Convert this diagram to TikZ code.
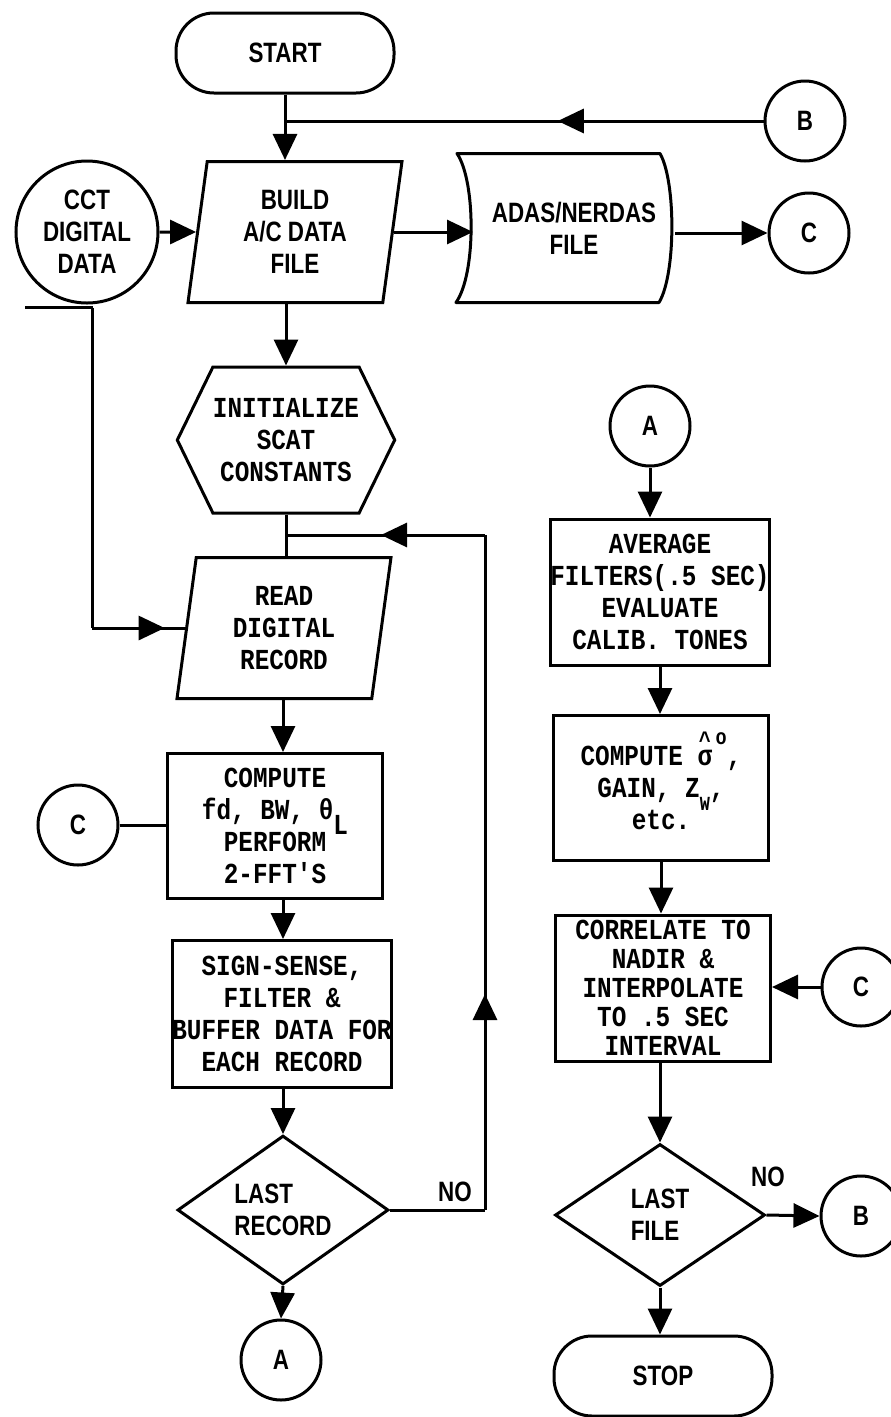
\documentclass[tikz,border=0pt]{standalone}
\usepackage{fontspec}
\usetikzlibrary{shapes.geometric, shapes.symbols, arrows.meta, calc, decorations.markings}
\newfontfamily\plotfont[FakeStretch=0.8]{Liberation Sans}
\newfontfamily\typefont[FakeStretch=0.84]{Liberation Mono}
\newcommand{\hatsigma}{\setbox0\hbox{σ}\rlap{\hbox to\wd0{\hss\raisebox{0.58em}[0pt][0pt]{\fontsize{24}{24}\selectfont\textasciicircum}\hss}}σ}
\tikzset{
    chartline/.style={line width=3pt},
    basebox/.style={draw, line width=3pt, inner sep=0pt, align=center, font=\typefont\bfseries\fontsize{29}{32}\selectfont},
    plotted/.style={font=\plotfont\bfseries\fontsize{28}{32}\selectfont},
    termbox/.style={basebox, plotted, rectangle, rounded corners=38pt, minimum width=218pt, minimum height=80pt},
    iobox/.style={basebox, trapezium, trapezium left angle=77, trapezium right angle=103, trapezium stretches body, minimum width=214pt, minimum height=141pt},
    prepbox/.style={basebox, signal, signal to=east and west, signal pointer angle=128, minimum width=217pt, minimum height=146pt},
    procbox/.style={basebox, rectangle, minimum width=215pt, minimum height=145pt},
    decbox/.style={basebox, plotted, diamond, align=left, minimum width=211pt, minimum height=140pt},
    connector/.style={basebox, plotted, circle, minimum size=80pt},
    tapebox/.style={basebox, plotted, circle, minimum size=142pt},
    filebox/.style={basebox, plotted, draw=none, rectangle, minimum width=199pt, minimum height=146pt},
    labeltext/.style={plotted, inner sep=0pt},
    flow/.style={chartline, -{Triangle[length=26pt,width=24pt]}},
    midarrow/.style={chartline, postaction={decorate}, decoration={markings, mark=at position #1 with {\arrow{Triangle[length=26pt,width=24pt]}}}},
}

\begin{document}
\begin{tikzpicture}[x=1pt, y=-1pt]
    \useasboundingbox (0,0) rectangle (891,1417);

    % main column
    \node[termbox] (start) at (285,53) {START};
    \node[iobox, plotted] (build) at (295,232) {BUILD\\A/C DATA\\FILE};
    \node[tapebox] (cct) at (87,232) {CCT\\DIGITAL\\DATA};
    \node[filebox] (adas) at (574,228) {ADAS/NERDAS\\FILE};
    \node[connector] (btop) at (805,121) {B};
    \node[connector] (ctop) at (809,233) {C};
    \node[prepbox] (init) at (286,440) {INITIALIZE\\SCAT\\CONSTANTS};
    \node[iobox] (read) at (284,628) {READ\\DIGITAL\\RECORD};
    \node[procbox] (compute) at (275,826) {COMPUTE\\fd, BW, θ\raisebox{-0.5em}[0pt][0pt]{L}\\PERFORM\\2-FFT'S};
    \node[connector] (cleft) at (78,825) {C};
    \node[procbox, minimum width=217pt, minimum height=147pt] (sign) at (282,1014) {SIGN-SENSE,\\FILTER \&\\BUFFER DATA FOR\\EACH RECORD};
    \node[decbox, minimum height=138pt] (lastrec) at (283,1210) {LAST\\RECORD};
    \node[connector] (aleft) at (281,1360) {A};
    \node[labeltext] (nolast) at (455,1192) {NO};

    % second column
    \node[connector] (aright) at (650,426) {A};
    \node[procbox, minimum height=146pt] (avg) at (660,592) {AVERAGE\\FILTERS(.5 SEC)\\EVALUATE\\CALIB. TONES};
    \node[procbox] (sigma) at (661,788) {COMPUTE \hatsigma\kern0.12em\raisebox{0.72em}[0pt][0pt]{\fontsize{22}{22}\selectfont o},\\GAIN, Z\raisebox{-0.45em}[0pt][0pt]{\fontsize{20}{20}\selectfont W},\\etc.};
    \node[procbox, minimum height=146pt, font=\typefont\bfseries\fontsize{29}{29}\selectfont] (corr) at (663,988) {CORRELATE TO\\NADIR \&\\INTERPOLATE\\TO .5 SEC\\INTERVAL};
    \node[connector, minimum size=78pt] (cright) at (861,987) {C};
    \node[decbox, minimum width=210pt, minimum height=142pt] (lastfile) at (660,1215) {LAST\\FILE};
    \node[connector] (bright) at (861,1216) {B};
    \node[labeltext] (nofile) at (768,1177) {NO};
    \node[termbox] (stop) at (663,1376) {STOP};

    % file outline and tape tail
    \draw[chartline, line join=round] ($(adas.north west)+(-16,0)$) -- ($(adas.north east)+(-15,0)$)
        .. controls ($(adas.north east)+(1,28)$) and ($(adas.south east)+(1,-28)$) .. ($(adas.south east)+(-16,0)$)
        -- ($(adas.south west)+(-17,0)$)
        .. controls ($(adas.south west)+(3,-28)$) and ($(adas.north west)+(3,28)$) .. cycle;
    \draw[chartline] ($(cct.south)+(6,3)$) -- ++(-68,0);

    \coordinate (bjoin) at (start.south |- btop.west);
    \coordinate (loopjoin) at (285,535);
    \coordinate (noturn) at ($(lastrec.east)+(95,0)$);
    \coordinate (looptop) at (noturn |- loopjoin);
    \coordinate (tapeturn) at ($(cct.south |- read.west)+(5,0)$);

    \draw[flow] (start.south) -- (start.south |- build.north);
    \draw[midarrow=0.43] (btop.west) -- (bjoin);
    \draw[flow] (cct.east) -- (build.west);
    \draw[flow] (build.east) -- (build.east -| adas.west);
    \draw[flow] (adas.east |- ctop.west) -- (ctop.west);
    \draw[flow] (build.south -| init.north) -- (init.north);
    \draw[chartline] (init.south) -- (init.south |- read.north);
    \draw[chartline] ($(cct.south)+(5,3)$) -- (tapeturn);
    \draw[midarrow=0.78] (tapeturn) -- (tapeturn -| read.west);
    \draw[flow] (read.south -| lastrec.north) -- (lastrec.north |- compute.north);
    \draw[chartline] (cleft.east) -- (cleft.east -| compute.west);
    \draw[flow] (compute.south -| lastrec.north) -- (lastrec.north |- sign.north);
    \draw[flow] (sign.south -| lastrec.north) -- (lastrec.north);
    \draw[flow] (lastrec.south) -- (aleft.north);
    \draw[chartline] (lastrec.east) -- (noturn);
    \draw[midarrow=0.32] (noturn) -- (looptop);
    \draw[midarrow=0.52] (looptop) -- (loopjoin);

    \draw[flow] (aright.south) -- (aright.south |- avg.north);
    \draw[flow] (avg.south) -- (avg.south |- sigma.north);
    \draw[flow] (sigma.south) -- (sigma.south |- corr.north);
    \draw[flow] (cright.west) -- (cright.west -| corr.east);
    \draw[flow] (corr.south -| lastfile.north) -- (lastfile.north);
    \draw[flow] (lastfile.east) -- (bright.west);
    \draw[flow] (lastfile.south) -- (lastfile.south |- stop.north);
\end{tikzpicture}
\end{document}
